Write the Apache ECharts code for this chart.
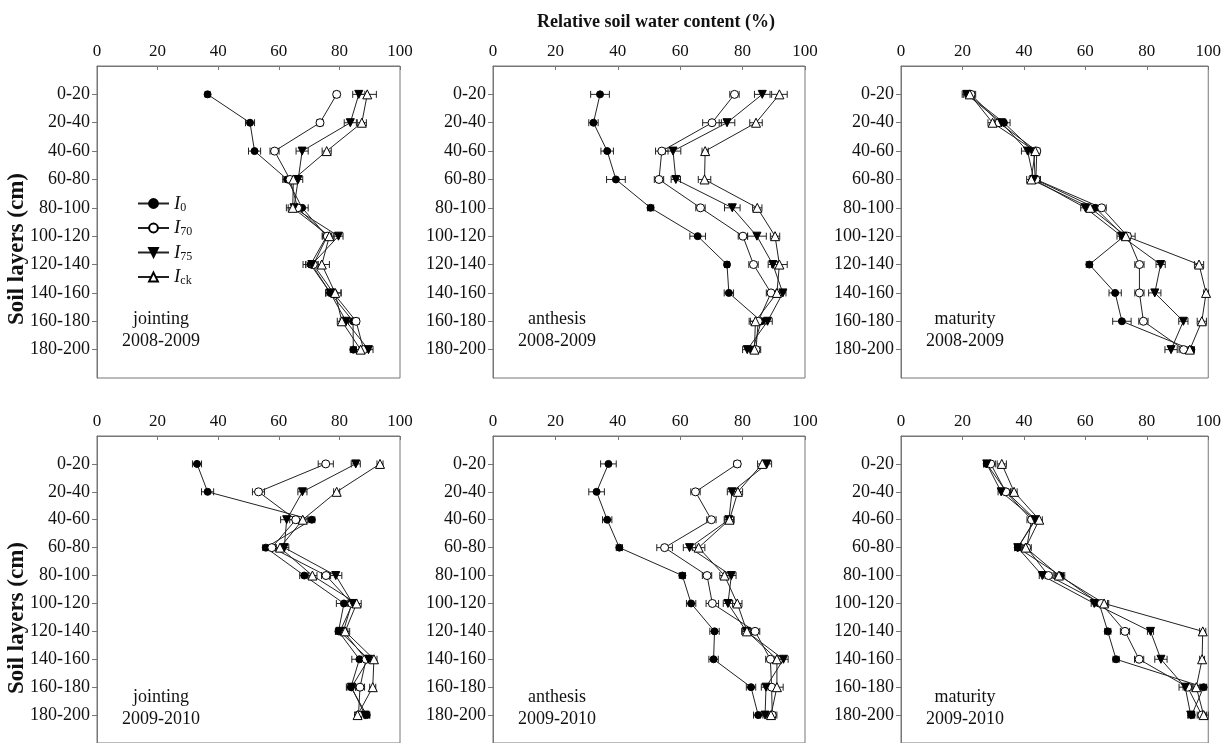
<!DOCTYPE html>
<html><head><meta charset="utf-8">
<script src="https://cdn.jsdelivr.net/npm/echarts@6/dist/echarts.min.js"></script>
<style>html,body{margin:0;padding:0;background:#fff}#c{width:1224px;height:743px}</style>
</head><body><div id="c"></div>
<script>
// ---------- DATA ----------
const layers = ['0-20','20-40','40-60','60-80','80-100','100-120','120-140','140-160','160-180','180-200'];
const seriesNames = ['I0','I70','I75','Ick'];
const xTickValues = [0,20,40,60,80,100];

// jointing 2008-2009
const J0809_I0  = [36.5, 50.5, 52.0, 62.8, 67.7, 75.8, 70.5, 77.0, 84.5, 84.6];
const J0809_I70 = [79.1, 73.6, 58.6, 63.7, 66.2, 76.0, 71.4, 78.0, 85.5, 88.0];
const J0809_I75 = [86.4, 83.6, 67.7, 66.4, 65.0, 79.7, 70.9, 77.0, 82.2, 89.6];
const J0809_Ick = [89.2, 87.4, 75.8, 64.8, 64.6, 76.7, 74.2, 78.6, 80.8, 87.0];
const J0809_E_I0  = [0.8, 1.5, 2, 1.5, 2, 1.5, 2.5, 1.5, 1.5, 1];
const J0809_E_I70 = [1, 1, 1.5, 2, 1.5, 1.5, 2.5, 2.5, 1, 1.5];
const J0809_E_I75 = [2, 2, 2, 1.5, 2.5, 1.5, 2, 1.5, 2, 1.5];
const J0809_E_Ick = [3, 1.5, 1.5, 1.5, 1.5, 1.5, 2.5, 2, 1.5, 1.5];

// anthesis 2008-2009
const A0809_I0  = [34.3, 32.2, 36.6, 39.4, 50.5, 65.6, 75.0, 75.6, 86.0, 83.3];
const A0809_I70 = [77.4, 70.2, 54.1, 53.2, 66.5, 80.1, 83.5, 89.1, 85.0, 84.3];
const A0809_I75 = [86.3, 75.0, 57.7, 58.6, 76.7, 84.6, 89.7, 92.9, 88.0, 81.5];
const A0809_Ick = [91.8, 84.3, 68.0, 67.8, 84.7, 90.4, 91.8, 91.0, 84.1, 83.8];
const A0809_E_I0  = [3, 1.5, 2, 3, 1, 2.5, 0.8, 1.5, 1, 1];
const A0809_E_I70 = [1.5, 3, 2, 1.5, 1.5, 1.5, 1.5, 1.5, 2.5, 1.5];
const A0809_E_I75 = [2.5, 2.5, 2.5, 1.5, 2.5, 3, 1.5, 1, 1.5, 1.5];
const A0809_E_Ick = [2.5, 2, 1, 2, 1.5, 1.5, 2.5, 1.5, 2, 1.5];

// maturity 2008-2009
const M0809_I0  = [21.8, 33.5, 43.2, 43.7, 63.2, 72.6, 61.3, 69.7, 71.9, 94.5];
const M0809_I70 = [22.8, 31.9, 44.2, 43.9, 65.3, 73.7, 77.6, 77.6, 78.9, 92.0];
const M0809_I75 = [21.4, 32.7, 41.2, 43.2, 60.0, 71.8, 84.5, 82.6, 91.9, 87.9];
const M0809_Ick = [22.4, 29.8, 43.7, 42.4, 61.6, 73.2, 97.0, 99.3, 97.9, 94.0];
const M0809_E_I0  = [1.5, 2, 1.5, 1.5, 1.5, 1.5, 1, 2, 3, 1];
const M0809_E_I70 = [1.5, 1.5, 1, 1.5, 1.5, 2.5, 1.5, 1.5, 1.5, 1.5];
const M0809_E_I75 = [1.5, 1.5, 2, 1.5, 1.5, 1.5, 1.5, 2, 1.5, 2];
const M0809_E_Ick = [1.5, 1.5, 1, 1.5, 1.5, 1.5, 1.5, 0.8, 1.5, 1];

// jointing 2009-2010
const J0910_I0  = [33.0, 36.5, 70.9, 55.7, 68.4, 81.5, 79.7, 86.6, 83.8, 89.0];
const J0910_I70 = [75.5, 53.3, 65.6, 57.7, 75.6, 84.1, 81.3, 88.8, 86.8, 86.3];
const J0910_I75 = [85.4, 67.8, 62.6, 61.8, 78.8, 84.4, 80.2, 89.6, 84.0, 88.5];
const J0910_Ick = [93.4, 79.1, 67.9, 60.4, 71.1, 85.7, 81.9, 91.4, 91.0, 86.0];
const J0910_E_I0  = [1.5, 2, 1, 1, 1.5, 2.5, 1, 2.5, 1.5, 1];
const J0910_E_I70 = [2.5, 2, 2, 1.5, 1.5, 1.5, 1.5, 1.5, 1.5, 1];
const J0910_E_I75 = [1.5, 1.5, 2, 1.5, 2, 1.5, 1.5, 1.5, 1.5, 1.5];
const J0910_E_Ick = [1, 1, 1.5, 1.5, 1.5, 1.5, 1.5, 1, 1, 1];

// anthesis 2009-2010
const A0910_I0  = [37.0, 33.2, 36.6, 40.5, 60.7, 63.5, 71.0, 70.7, 82.7, 85.0];
const A0910_I70 = [78.3, 64.9, 70.0, 55.0, 68.6, 70.3, 84.0, 88.9, 89.3, 89.5];
const A0910_I75 = [87.8, 76.6, 75.6, 63.0, 76.4, 75.3, 81.2, 93.1, 87.5, 87.2];
const A0910_Ick = [86.3, 78.5, 75.8, 65.9, 74.2, 78.3, 81.4, 91.0, 91.0, 89.1];
const A0910_E_I0  = [2.5, 2.5, 1.5, 1, 1, 1.5, 1.5, 1.5, 1.5, 1.5];
const A0910_E_I70 = [1, 1.5, 1.5, 2.5, 1.5, 2, 1.5, 1.5, 1.5, 1.5];
const A0910_E_I75 = [1.5, 1.5, 1.5, 2, 1.5, 1.5, 1.5, 1.5, 1.5, 1.5];
const A0910_E_Ick = [1.5, 1.5, 1.5, 2, 1.5, 1.5, 1.5, 2, 2, 1.5];

// maturity 2009-2010
const M0910_I0  = [27.9, 34.3, 43.8, 38.0, 51.8, 64.5, 67.3, 70.0, 98.5, 94.6];
const M0910_I70 = [29.2, 34.1, 42.5, 40.9, 48.0, 65.2, 72.9, 77.5, 93.3, 97.9];
const M0910_I75 = [27.9, 32.6, 43.6, 38.0, 46.0, 62.9, 81.2, 84.6, 92.5, 94.3];
const M0910_Ick = [32.8, 36.8, 45.0, 40.6, 51.4, 66.1, 98.2, 98.0, 96.1, 98.5];
const M0910_E_I0  = [1, 1.5, 1, 1, 1.5, 1.5, 1, 1, 1, 1];
const M0910_E_I70 = [1.5, 1.5, 1.5, 1.5, 1.5, 2, 1.5, 1.5, 1.5, 1.5];
const M0910_E_I75 = [1, 1, 1, 1, 1, 1, 1, 2, 2, 1];
const M0910_E_Ick = [1.5, 1, 1, 1, 1.5, 1.5, 1, 0.8, 1, 1.5];

const panelStages = ['jointing','anthesis','maturity','jointing','anthesis','maturity'];
const panelYears  = ['2008-2009','2008-2009','2008-2009','2009-2010','2009-2010','2009-2010'];
const panelValues = [
  [J0809_I0, J0809_I70, J0809_I75, J0809_Ick],
  [A0809_I0, A0809_I70, A0809_I75, A0809_Ick],
  [M0809_I0, M0809_I70, M0809_I75, M0809_Ick],
  [J0910_I0, J0910_I70, J0910_I75, J0910_Ick],
  [A0910_I0, A0910_I70, A0910_I75, A0910_Ick],
  [M0910_I0, M0910_I70, M0910_I75, M0910_Ick]
];
const panelErrors = [
  [J0809_E_I0, J0809_E_I70, J0809_E_I75, J0809_E_Ick],
  [A0809_E_I0, A0809_E_I70, A0809_E_I75, A0809_E_Ick],
  [M0809_E_I0, M0809_E_I70, M0809_E_I75, M0809_E_Ick],
  [J0910_E_I0, J0910_E_I70, J0910_E_I75, J0910_E_Ick],
  [A0910_E_I0, A0910_E_I70, A0910_E_I75, A0910_E_Ick],
  [M0910_E_I0, M0910_E_I70, M0910_E_I75, M0910_E_Ick]
];

// ---------- LAYOUT / STYLE ----------
const FONT = "'Liberation Serif','DejaVu Serif',serif";
const colLeft  = [97, 493, 901];
const colWidth = [303, 312, 319];
const rowTop   = [66, 436];
const boxH = 312;
const yCats = [''].concat(layers, ['']);
const markers = [
  {symbol:'circle',   size:7, rotate:0,   fill:'#000'},
  {symbol:'circle',   size:8, rotate:0,   fill:'#fff'},
  {symbol:'triangle', size:8, rotate:180, fill:'#000'},
  {symbol:'triangle', size:9, rotate:0,   fill:'#fff'}
];

const grids = [], xAxes = [], yAxes = [], series = [], graphics = [];
for (let p = 0; p < 6; p++) {
  const col = p % 3, row = Math.floor(p / 3);
  grids.push({left: colLeft[col], top: rowTop[row], width: colWidth[col], height: boxH,
    show: true, borderColor: '#777', borderWidth: 1, backgroundColor: 'transparent', containLabel: false});
  xAxes.push({type: 'value', gridIndex: p, position: 'top', min: xTickValues[0], max: xTickValues[xTickValues.length-1], interval: 20,
    axisLine: {show: true, lineStyle: {color: '#777', width: 1}},
    axisTick: {show: true, inside: true, length: 4, lineStyle: {color: '#777'}},
    axisLabel: {fontFamily: FONT, fontSize: 17, color: '#111', margin: 6},
    splitLine: {show: false}});
  yAxes.push({type: 'category', gridIndex: p, inverse: true, boundaryGap: false, data: yCats,
    axisLine: {show: true, lineStyle: {color: '#777', width: 1}},
    axisTick: {show: true, length: 5, interval: (i, v) => v !== '', lineStyle: {color: '#777'}},
    axisLabel: {fontFamily: FONT, fontSize: 18, color: '#111', margin: 7, interval: 0},
    splitLine: {show: false}});
  for (let s = 0; s < 4; s++) {
    const vals = panelValues[p][s], errs = panelErrors[p][s];
    series.push({
      type: 'custom', name: 'err' + p + s, xAxisIndex: p, yAxisIndex: p, z: 1,
      encode: {x: 0, y: 1}, silent: true,
      data: vals.map((v, i) => [v, layers[i], errs[i]]),
      renderItem: function (params, api) {
        const v = api.value(0), c = api.value(1), e = api.value(2);
        const a = api.coord([v - e, c]), b = api.coord([v + e, c]);
        const h = 3.5, st = {stroke: '#222', lineWidth: 1};
        return {type: 'group', children: [
          {type: 'line', shape: {x1: a[0], y1: a[1], x2: b[0], y2: b[1]}, style: st},
          {type: 'line', shape: {x1: a[0], y1: a[1] - h, x2: a[0], y2: a[1] + h}, style: st},
          {type: 'line', shape: {x1: b[0], y1: b[1] - h, x2: b[0], y2: b[1] + h}, style: st}
        ]};
      }
    });
    const m = markers[s];
    series.push({
      type: 'line', name: seriesNames[s], xAxisIndex: p, yAxisIndex: p, z: 3,
      data: vals.map((v, i) => [v, layers[i]]),
      symbol: m.symbol, symbolSize: m.size, symbolRotate: m.rotate,
      showAllSymbol: true,
      lineStyle: {color: '#222', width: 1},
      itemStyle: {color: m.fill, borderColor: '#000', borderWidth: 1},
      emphasis: {disabled: true}
    });
  }
  const cx = colLeft[col] + 64;
  const ty = row === 0 ? 319 : 697;
  graphics.push({type: 'text', x: cx, y: ty, style: {text: panelStages[p], fontFamily: FONT, fontSize: 18, fill: '#111', textAlign: 'center', textVerticalAlign: 'middle'}});
  graphics.push({type: 'text', x: cx, y: ty + 22, style: {text: panelYears[p], fontFamily: FONT, fontSize: 18, fill: '#111', textAlign: 'center', textVerticalAlign: 'middle'}});
}
graphics.push({type: 'text', x: 656, y: 22, style: {text: 'Relative soil water content (%)', fontFamily: FONT, fontWeight: 'bold', fontSize: 18, fill: '#111', textAlign: 'center', textVerticalAlign: 'middle'}});
[249, 618].forEach(yc => {
  graphics.push({type: 'text', x: 17, y: yc, rotation: Math.PI / 2,
    style: {text: 'Soil layers (cm)', fontFamily: FONT, fontWeight: 'bold', fontSize: 23, fill: '#111', textAlign: 'center', textVerticalAlign: 'middle'}});
});

const chart = echarts.init(document.getElementById('c'), null, {renderer: 'canvas'});
chart.setOption({
  backgroundColor: '#fff',
  animation: false,
  grid: grids, xAxis: xAxes, yAxis: yAxes, series: series,
  legend: {
    data: seriesNames, orient: 'vertical', left: 132, top: 189,
    itemWidth: 31, itemHeight: 11, itemGap: 5,
    formatter: n => '{i|I}{s|' + n.slice(1) + '}',
    textStyle: {
      rich: {
        i: {fontFamily: FONT, fontStyle: 'italic', fontSize: 19, color: '#111', lineHeight: 20, verticalAlign: 'middle'},
        s: {fontFamily: FONT, fontSize: 12, color: '#111', lineHeight: 20, verticalAlign: 'bottom', padding: [6, 0, 0, 0]}
      }
    },
    selectedMode: false
  },
  graphic: graphics
});
</script>
</body></html>
